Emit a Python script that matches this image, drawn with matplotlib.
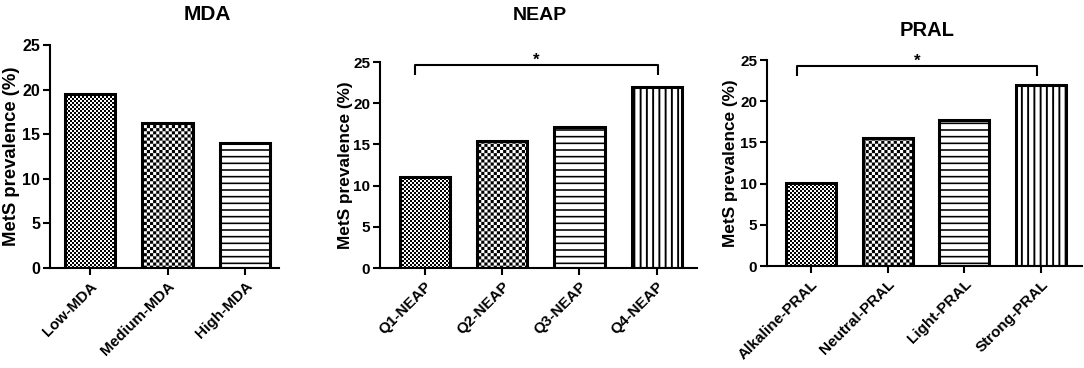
"""MetS prevalence across MDA, NEAP and PRAL categories (three bar panels)."""
import warnings
import numpy as np
import matplotlib
matplotlib.use('Agg')
import matplotlib.pyplot as plt
from matplotlib import hatch as mhatch
from matplotlib.path import Path

warnings.filterwarnings('ignore', message='hatch must consist')

# ---- data ----
mda_labels = ['Low-MDA', 'Medium-MDA', 'High-MDA']
mda_values = [19.5, 16.2, 14.0]

neap_labels = ['Q1-NEAP', 'Q2-NEAP', 'Q3-NEAP', 'Q4-NEAP']
neap_values = [11.0, 15.4, 17.1, 22.0]

pral_labels = ['Alkaline-PRAL', 'Neutral-PRAL', 'Light-PRAL', 'Strong-PRAL']
pral_values = [10.1, 15.5, 17.7, 22.0]

y_ticks = [0, 5, 10, 15, 20, 25]
hatches = ['k', 'c', 'h', 'v']   # fine checker, coarse checker, horizontal, vertical

plt.rcParams.update({
    'font.family': ['Liberation Sans', 'DejaVu Sans'],
    'font.weight': 'bold',
    'axes.labelweight': 'bold',
    'hatch.linewidth': 0.01,
    'axes.linewidth': 1.5,
})


# ---- custom filled hatch patterns (one tile = 1 inch) ----
class CheckerHatch(mhatch.HatchPatternBase):
    char = 'k'
    cells = 50

    def __init__(self, hatch, density):
        n = self.cells if self.char in hatch else 0
        self.n = n
        ii, jj = np.meshgrid(np.arange(n), np.arange(n))
        mask = (ii + jj) % 2 == 0
        self.sq = np.column_stack([ii[mask], jj[mask]])
        self.num_vertices = len(self.sq) * 5

    def set_vertices_and_codes(self, vertices, codes):
        s = 1.0 / self.n
        corners = np.array([[0, 0], [1, 0], [1, 1], [0, 1], [0, 0]]) * s
        v = self.sq[:, None, :] * s + corners[None]
        vertices[:] = v.reshape(-1, 2)
        c = [Path.MOVETO, Path.LINETO, Path.LINETO, Path.LINETO, Path.CLOSEPOLY]
        codes[:] = np.tile(c, len(self.sq))


class CoarseCheckerHatch(CheckerHatch):
    char = 'c'
    cells = 32


class StripeHatch(mhatch.HatchPatternBase):
    char = 'h'
    lines = 15
    thick = 0.016
    vertical = False

    def __init__(self, hatch, density):
        self.n = self.lines if self.char in hatch else 0
        self.num_vertices = self.n * 5

    def set_vertices_and_codes(self, vertices, codes):
        pos = (np.arange(self.n) + 0.5) / self.n
        t = self.thick / 2
        rects = []
        for p in pos:
            r = [[0, p - t], [1, p - t], [1, p + t], [0, p + t], [0, p - t]]
            if self.vertical:
                r = [[b, a] for a, b in r]
            rects.append(r)
        vertices[:] = np.array(rects).reshape(-1, 2)
        c = [Path.MOVETO, Path.LINETO, Path.LINETO, Path.LINETO, Path.CLOSEPOLY]
        codes[:] = np.tile(c, self.n)


class VStripeHatch(StripeHatch):
    char = 'v'
    lines = 16
    thick = 0.019
    vertical = True


mhatch._hatch_types.extend([CheckerHatch, CoarseCheckerHatch, StripeHatch, VStripeHatch])

W, H = 1084, 368
fig = plt.figure(figsize=(W / 100, H / 100), dpi=100)


def px_axes(left, right, top, bottom):
    return fig.add_axes([left / W, (H - bottom) / H, (right - left) / W, (bottom - top) / H])


def draw_panel(ax, labels, values, xlim, tick_fs, label_fs, ylabel_dx):
    x = np.arange(len(labels))
    ax.bar(x, values, width=0.65, color='white', edgecolor='black',
           linewidth=2.2, hatch=hatches[:len(labels)], zorder=2)
    ax.set_xlim(*xlim)
    ax.set_ylim(0, 25)
    ax.set_yticks(y_ticks)
    ax.set_xticks(x)
    ax.set_xticklabels(labels, rotation=45, ha='right', rotation_mode='anchor',
                       fontsize=11, fontweight='bold')
    ax.tick_params(axis='y', labelsize=tick_fs, width=1.5, length=5, pad=2)
    ax.tick_params(axis='x', width=1.5, length=5, pad=3)
    for s in ['top', 'right']:
        ax.spines[s].set_visible(False)
    ax.set_ylabel('MetS prevalence (%)', fontsize=label_fs, fontweight='bold')
    pos = ax.get_position()
    ax.yaxis.set_label_coords(ylabel_dx / (pos.width * W), 0.5)


def bracket(ax, x0, x1, y, drop):
    ax.plot([x0, x0, x1, x1], [y - drop, y, y, y - drop], color='black',
            lw=1.5, clip_on=False, solid_capstyle='butt')
    ax.text((x0 + x1) / 2, y + 0.6, '*', ha='center', va='center',
            fontsize=12, fontweight='bold')


ax1 = px_axes(50, 279, 45, 268)
draw_panel(ax1, mda_labels, mda_values, (-0.52, 2.44), 11.5, 13.3, -30)

ax2 = px_axes(380, 697, 62, 268)
draw_panel(ax2, neap_labels, neap_values, (-0.58, 3.52), 11, 12.4, -27)
bracket(ax2, -0.13, 3.02, 24.6, 1.2)

ax3 = px_axes(767, 1082, 60, 266)
draw_panel(ax3, pral_labels, pral_values, (-0.57, 3.53), 11, 12.4, -29)
bracket(ax3, -0.18, 2.95, 24.3, 1.2)

fig.text(207 / W, 1 - 14 / H, 'MDA', ha='center', va='center', fontsize=15, fontweight='bold')
fig.text(540 / W, 1 - 16 / H, 'NEAP', ha='center', va='center', fontsize=14, fontweight='bold')
fig.text(927 / W, 1 - 31 / H, 'PRAL', ha='center', va='center', fontsize=14.5, fontweight='bold')

fig.savefig('out.png', dpi=100)
